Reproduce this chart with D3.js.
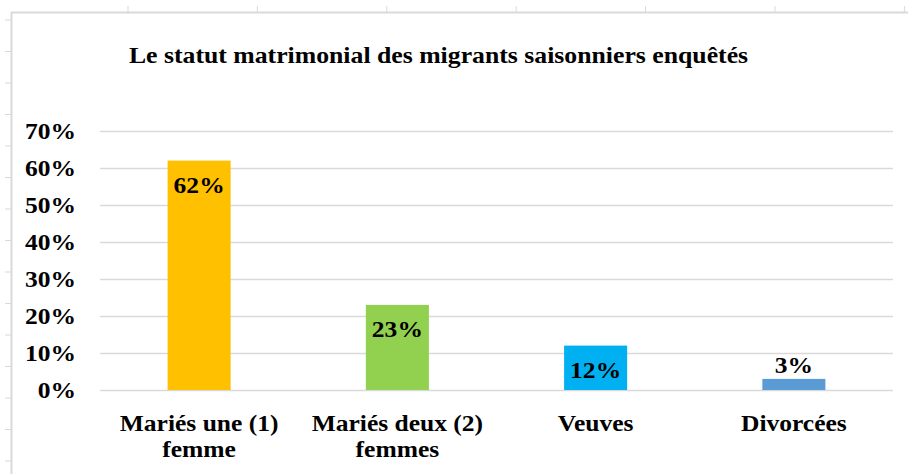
<!DOCTYPE html>
<html lang="fr">
<head>
  <meta charset="UTF-8">
  <title>Statut matrimonial</title>
  <style>
    body { margin: 0; background: #fff; }
    svg text { font-family: "Liberation Serif", "Times New Roman", serif; font-weight: bold; fill: #000; }
  </style>
</head>
<body>
  <svg width="908" height="474"></svg>
  <script src="https://d3js.org/d3.v7.min.js"></script>
  <script>
    const categories = [["Mariés une (1)", "femme"], ["Mariés deux (2)", "femmes"], ["Veuves"], ["Divorcées"]];
    const values = [0.62, 0.23, 0.12, 0.03];
    const colors = ["#FFC000", "#92D050", "#00B0F0", "#5B9BD5"];
    const yTicks = [0, 0.1, 0.2, 0.3, 0.4, 0.5, 0.6, 0.7];
    const title = "Le statut matrimonial des migrants saisonniers enquêtés";

    const width = 908, height = 474;
    const stretch = 1.11; // the source picture is a bit wider than tall
    const svg = d3.select("svg");
    const place = (x, y) => `translate(${x},${y}) scale(${stretch},1)`;

    // spreadsheet cells peeking around the chart
    const bg = svg.append("g").attr("stroke", "#d9d9d9").attr("stroke-width", 1);
    d3.range(128, 908, 129.4).forEach(x => {
      bg.append("line").attr("x1", x).attr("x2", x).attr("y1", 6).attr("y2", 12);
    });
    d3.range(20, 474, 31.5).forEach(y => {
      bg.append("line").attr("x1", 5).attr("x2", 11).attr("y1", y).attr("y2", y);
    });

    // chart border
    svg.append("path")
      .attr("d", `M11.5,${height} V12.5 H${width}`)
      .attr("fill", "none")
      .attr("stroke", "#d9d9d9")
      .attr("stroke-width", 2);

    svg.append("text")
      .attr("transform", place(438.5, 63))
      .attr("text-anchor", "middle")
      .style("font-size", "23.2px")
      .text(title);

    const x = d3.scaleBand()
      .domain(d3.range(categories.length))
      .range([100, 893])
      .paddingInner(0.682)
      .paddingOuter(0.341);

    const y = d3.scaleLinear().domain([0, 0.7]).range([390, 131]);

    // gridlines
    svg.append("g")
      .selectAll("line")
      .data(yTicks)
      .join("line")
      .attr("x1", 100).attr("x2", 893)
      .attr("y1", d => Math.round(y(d)) + 0.5)
      .attr("y2", d => Math.round(y(d)) + 0.5)
      .attr("stroke", "#d9d9d9")
      .attr("stroke-width", 1.5);

    svg.append("g")
      .selectAll("text")
      .data(yTicks)
      .join("text")
      .attr("transform", d => place(76, y(d) + 8))
      .attr("text-anchor", "end")
      .style("font-size", "23px")
      .text(d3.format(".0%"));

    svg.append("g")
      .selectAll("rect")
      .data(values)
      .join("rect")
      .attr("x", (d, i) => x(i))
      .attr("y", d => y(d))
      .attr("width", x.bandwidth())
      .attr("height", d => y(0) - y(d))
      .attr("fill", (d, i) => colors[i]);

    // value labels: inside top for tall bars, above for small one
    svg.append("g")
      .selectAll("text")
      .data(values)
      .join("text")
      .attr("transform", (d, i) => place(x(i) + x.bandwidth() / 2,
        (y(0) - y(d) > 30) ? y(d) + 32 : y(d) - 6))
      .attr("text-anchor", "middle")
      .style("font-size", "23px")
      .text(d3.format(".0%"));

    const cat = svg.append("g")
      .selectAll("text")
      .data(categories)
      .join("text")
      .attr("transform", (d, i) => place(x(i) + x.bandwidth() / 2, 0))
      .attr("text-anchor", "middle")
      .style("font-size", "23px");
    cat.each(function (lines) {
      const t = d3.select(this);
      lines.forEach((s, k) => {
        t.append("tspan")
          .attr("x", 0)
          .attr("y", 431 + k * 26)
          .text(s);
      });
    });
  </script>
</body>
</html>
